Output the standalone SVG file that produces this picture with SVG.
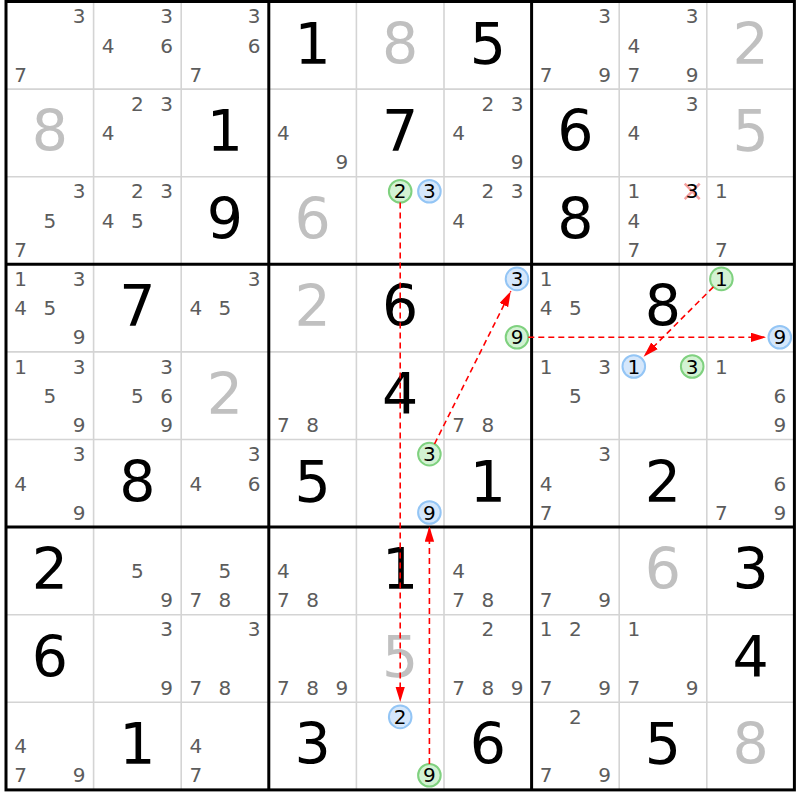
<svg xmlns="http://www.w3.org/2000/svg" width="800" height="800" viewBox="0 0 800 800">
<style>
.cand text{font-family:"DejaVu Sans",Verdana,sans-serif;font-size:20px;fill:#5c5c5c;text-anchor:middle}
.cand text.k{fill:#000}
.big text{font-family:"DejaVu Sans",Verdana,sans-serif;font-size:57px;text-anchor:middle}
.solved text{fill:#000}
.given text{fill:#c0c0c0}
.thin{stroke:#d4d4d4;stroke-width:1.6;fill:none}
.thick{stroke:#000;stroke-width:3;fill:none}
.gc{fill:#d3f2d3;stroke:#7fd17f;stroke-width:2}
.bc{fill:#d5e7fb;stroke:#93c5f5;stroke-width:2}
.x{stroke:#f4a0a0;stroke-width:2.5}
.link{stroke:#ff0000;stroke-width:1.6;stroke-dasharray:6,4;fill:none;marker-end:url(#ah)}
</style>
<defs>
<marker id="ah" markerWidth="16" markerHeight="10" refX="15.5" refY="4.75" orient="auto" markerUnits="userSpaceOnUse"><path d="M0,0 L15.5,4.75 L0,9.5 z" fill="#ff0000"/></marker>
</defs>
<rect x="0" y="0" width="800" height="800" fill="#fff"/>
<g id="grid">
<path class="thin" d="M93.6,1.5V789.9M181.2,1.5V789.9M356.4,1.5V789.9M444,1.5V789.9M619.2,1.5V789.9M706.8,1.5V789.9M6,89.1H794.4M6,176.7H794.4M6,351.9H794.4M6,439.5H794.4M6,614.7H794.4M6,702.3H794.4"/>
<path class="thick" d="M268.8,1.5V789.9M531.6,1.5V789.9M6,264.3H794.4M6,527.1H794.4"/>
<rect class="thick" x="6" y="1.5" width="788.4" height="788.4"/>
</g>
<!-- row 0 -->
<g id="r0c0" class="cand" transform="translate(6,1.5)"><text x="73" y="21.8">3</text><text x="14.6" y="80.2">7</text></g>
<g id="r0c1" class="cand" transform="translate(93.6,1.5)"><text x="73" y="21.8">3</text><text x="14.6" y="51">4</text><text x="73" y="51">6</text></g>
<g id="r0c2" class="cand" transform="translate(181.2,1.5)"><text x="73" y="21.8">3</text><text x="73" y="51">6</text><text x="14.6" y="80.2">7</text></g>
<g id="r0c3" class="big solved" transform="translate(268.8,1.5)"><text x="43.8" y="62">1</text></g>
<g id="r0c4" class="big given" transform="translate(356.4,1.5)"><text x="43.8" y="62">8</text></g>
<g id="r0c5" class="big solved" transform="translate(444,1.5)"><text x="43.8" y="62">5</text></g>
<g id="r0c6" class="cand" transform="translate(531.6,1.5)"><text x="73" y="21.8">3</text><text x="14.6" y="80.2">7</text><text x="73" y="80.2">9</text></g>
<g id="r0c7" class="cand" transform="translate(619.2,1.5)"><text x="73" y="21.8">3</text><text x="14.6" y="51">4</text><text x="14.6" y="80.2">7</text><text x="73" y="80.2">9</text></g>
<g id="r0c8" class="big given" transform="translate(706.8,1.5)"><text x="43.8" y="62">2</text></g>
<!-- row 1 -->
<g id="r1c0" class="big given" transform="translate(6,89.1)"><text x="43.8" y="62">8</text></g>
<g id="r1c1" class="cand" transform="translate(93.6,89.1)"><text x="43.8" y="21.8">2</text><text x="73" y="21.8">3</text><text x="14.6" y="51">4</text></g>
<g id="r1c2" class="big solved" transform="translate(181.2,89.1)"><text x="43.8" y="62">1</text></g>
<g id="r1c3" class="cand" transform="translate(268.8,89.1)"><text x="14.6" y="51">4</text><text x="73" y="80.2">9</text></g>
<g id="r1c4" class="big solved" transform="translate(356.4,89.1)"><text x="43.8" y="62">7</text></g>
<g id="r1c5" class="cand" transform="translate(444,89.1)"><text x="43.8" y="21.8">2</text><text x="73" y="21.8">3</text><text x="14.6" y="51">4</text><text x="73" y="80.2">9</text></g>
<g id="r1c6" class="big solved" transform="translate(531.6,89.1)"><text x="43.8" y="62">6</text></g>
<g id="r1c7" class="cand" transform="translate(619.2,89.1)"><text x="73" y="21.8">3</text><text x="14.6" y="51">4</text></g>
<g id="r1c8" class="big given" transform="translate(706.8,89.1)"><text x="43.8" y="62">5</text></g>
<!-- row 2 -->
<g id="r2c0" class="cand" transform="translate(6,176.7)"><text x="73" y="21.8">3</text><text x="43.8" y="51">5</text><text x="14.6" y="80.2">7</text></g>
<g id="r2c1" class="cand" transform="translate(93.6,176.7)"><text x="43.8" y="21.8">2</text><text x="73" y="21.8">3</text><text x="14.6" y="51">4</text><text x="43.8" y="51">5</text></g>
<g id="r2c2" class="big solved" transform="translate(181.2,176.7)"><text x="43.8" y="62">9</text></g>
<g id="r2c3" class="big given" transform="translate(268.8,176.7)"><text x="43.8" y="62">6</text></g>
<g id="r2c4" class="cand" transform="translate(356.4,176.7)"><circle class="gc" cx="43.8" cy="14.6" r="11.3"/><text class="k" x="43.8" y="21.8">2</text><circle class="bc" cx="73" cy="14.6" r="11.3"/><text class="k" x="73" y="21.8">3</text></g>
<g id="r2c5" class="cand" transform="translate(444,176.7)"><text x="43.8" y="21.8">2</text><text x="73" y="21.8">3</text><text x="14.6" y="51">4</text></g>
<g id="r2c6" class="big solved" transform="translate(531.6,176.7)"><text x="43.8" y="62">8</text></g>
<g id="r2c7" class="cand" transform="translate(619.2,176.7)"><text x="14.6" y="21.8">1</text><path class="x" d="M65.5,7L80.5,22.5M80.5,7L65.5,22.5"/><text class="k" x="73" y="21.8">3</text><text x="14.6" y="51">4</text><text x="14.6" y="80.2">7</text></g>
<g id="r2c8" class="cand" transform="translate(706.8,176.7)"><text x="14.6" y="21.8">1</text><text x="14.6" y="80.2">7</text></g>
<!-- row 3 -->
<g id="r3c0" class="cand" transform="translate(6,264.3)"><text x="14.6" y="21.8">1</text><text x="73" y="21.8">3</text><text x="14.6" y="51">4</text><text x="43.8" y="51">5</text><text x="73" y="80.2">9</text></g>
<g id="r3c1" class="big solved" transform="translate(93.6,264.3)"><text x="43.8" y="62">7</text></g>
<g id="r3c2" class="cand" transform="translate(181.2,264.3)"><text x="73" y="21.8">3</text><text x="14.6" y="51">4</text><text x="43.8" y="51">5</text></g>
<g id="r3c3" class="big given" transform="translate(268.8,264.3)"><text x="43.8" y="62">2</text></g>
<g id="r3c4" class="big solved" transform="translate(356.4,264.3)"><text x="43.8" y="62">6</text></g>
<g id="r3c5" class="cand" transform="translate(444,264.3)"><circle class="bc" cx="73" cy="14.6" r="11.3"/><text class="k" x="73" y="21.8">3</text><circle class="gc" cx="73" cy="73" r="11.3"/><text class="k" x="73" y="80.2">9</text></g>
<g id="r3c6" class="cand" transform="translate(531.6,264.3)"><text x="14.6" y="21.8">1</text><text x="14.6" y="51">4</text><text x="43.8" y="51">5</text></g>
<g id="r3c7" class="big solved" transform="translate(619.2,264.3)"><text x="43.8" y="62">8</text></g>
<g id="r3c8" class="cand" transform="translate(706.8,264.3)"><circle class="gc" cx="14.6" cy="14.6" r="11.3"/><text class="k" x="14.6" y="21.8">1</text><circle class="bc" cx="73" cy="73" r="11.3"/><text class="k" x="73" y="80.2">9</text></g>
<!-- row 4 -->
<g id="r4c0" class="cand" transform="translate(6,351.9)"><text x="14.6" y="21.8">1</text><text x="73" y="21.8">3</text><text x="43.8" y="51">5</text><text x="73" y="80.2">9</text></g>
<g id="r4c1" class="cand" transform="translate(93.6,351.9)"><text x="73" y="21.8">3</text><text x="43.8" y="51">5</text><text x="73" y="51">6</text><text x="73" y="80.2">9</text></g>
<g id="r4c2" class="big given" transform="translate(181.2,351.9)"><text x="43.8" y="62">2</text></g>
<g id="r4c3" class="cand" transform="translate(268.8,351.9)"><text x="14.6" y="80.2">7</text><text x="43.8" y="80.2">8</text></g>
<g id="r4c4" class="big solved" transform="translate(356.4,351.9)"><text x="43.8" y="62">4</text></g>
<g id="r4c5" class="cand" transform="translate(444,351.9)"><text x="14.6" y="80.2">7</text><text x="43.8" y="80.2">8</text></g>
<g id="r4c6" class="cand" transform="translate(531.6,351.9)"><text x="14.6" y="21.8">1</text><text x="73" y="21.8">3</text><text x="43.8" y="51">5</text></g>
<g id="r4c7" class="cand" transform="translate(619.2,351.9)"><circle class="bc" cx="14.6" cy="14.6" r="11.3"/><text class="k" x="14.6" y="21.8">1</text><circle class="gc" cx="73" cy="14.6" r="11.3"/><text class="k" x="73" y="21.8">3</text></g>
<g id="r4c8" class="cand" transform="translate(706.8,351.9)"><text x="14.6" y="21.8">1</text><text x="73" y="51">6</text><text x="73" y="80.2">9</text></g>
<!-- row 5 -->
<g id="r5c0" class="cand" transform="translate(6,439.5)"><text x="73" y="21.8">3</text><text x="14.6" y="51">4</text><text x="73" y="80.2">9</text></g>
<g id="r5c1" class="big solved" transform="translate(93.6,439.5)"><text x="43.8" y="62">8</text></g>
<g id="r5c2" class="cand" transform="translate(181.2,439.5)"><text x="73" y="21.8">3</text><text x="14.6" y="51">4</text><text x="73" y="51">6</text></g>
<g id="r5c3" class="big solved" transform="translate(268.8,439.5)"><text x="43.8" y="62">5</text></g>
<g id="r5c4" class="cand" transform="translate(356.4,439.5)"><circle class="gc" cx="73" cy="14.6" r="11.3"/><text class="k" x="73" y="21.8">3</text><circle class="bc" cx="73" cy="73" r="11.3"/><text class="k" x="73" y="80.2">9</text></g>
<g id="r5c5" class="big solved" transform="translate(444,439.5)"><text x="43.8" y="62">1</text></g>
<g id="r5c6" class="cand" transform="translate(531.6,439.5)"><text x="73" y="21.8">3</text><text x="14.6" y="51">4</text><text x="14.6" y="80.2">7</text></g>
<g id="r5c7" class="big solved" transform="translate(619.2,439.5)"><text x="43.8" y="62">2</text></g>
<g id="r5c8" class="cand" transform="translate(706.8,439.5)"><text x="73" y="51">6</text><text x="14.6" y="80.2">7</text><text x="73" y="80.2">9</text></g>
<!-- row 6 -->
<g id="r6c0" class="big solved" transform="translate(6,527.1)"><text x="43.8" y="62">2</text></g>
<g id="r6c1" class="cand" transform="translate(93.6,527.1)"><text x="43.8" y="51">5</text><text x="73" y="80.2">9</text></g>
<g id="r6c2" class="cand" transform="translate(181.2,527.1)"><text x="43.8" y="51">5</text><text x="14.6" y="80.2">7</text><text x="43.8" y="80.2">8</text></g>
<g id="r6c3" class="cand" transform="translate(268.8,527.1)"><text x="14.6" y="51">4</text><text x="14.6" y="80.2">7</text><text x="43.8" y="80.2">8</text></g>
<g id="r6c4" class="big solved" transform="translate(356.4,527.1)"><text x="43.8" y="62">1</text></g>
<g id="r6c5" class="cand" transform="translate(444,527.1)"><text x="14.6" y="51">4</text><text x="14.6" y="80.2">7</text><text x="43.8" y="80.2">8</text></g>
<g id="r6c6" class="cand" transform="translate(531.6,527.1)"><text x="14.6" y="80.2">7</text><text x="73" y="80.2">9</text></g>
<g id="r6c7" class="big given" transform="translate(619.2,527.1)"><text x="43.8" y="62">6</text></g>
<g id="r6c8" class="big solved" transform="translate(706.8,527.1)"><text x="43.8" y="62">3</text></g>
<!-- row 7 -->
<g id="r7c0" class="big solved" transform="translate(6,614.7)"><text x="43.8" y="62">6</text></g>
<g id="r7c1" class="cand" transform="translate(93.6,614.7)"><text x="73" y="21.8">3</text><text x="73" y="80.2">9</text></g>
<g id="r7c2" class="cand" transform="translate(181.2,614.7)"><text x="73" y="21.8">3</text><text x="14.6" y="80.2">7</text><text x="43.8" y="80.2">8</text></g>
<g id="r7c3" class="cand" transform="translate(268.8,614.7)"><text x="14.6" y="80.2">7</text><text x="43.8" y="80.2">8</text><text x="73" y="80.2">9</text></g>
<g id="r7c4" class="big given" transform="translate(356.4,614.7)"><text x="43.8" y="62">5</text></g>
<g id="r7c5" class="cand" transform="translate(444,614.7)"><text x="43.8" y="21.8">2</text><text x="14.6" y="80.2">7</text><text x="43.8" y="80.2">8</text><text x="73" y="80.2">9</text></g>
<g id="r7c6" class="cand" transform="translate(531.6,614.7)"><text x="14.6" y="21.8">1</text><text x="43.8" y="21.8">2</text><text x="14.6" y="80.2">7</text><text x="73" y="80.2">9</text></g>
<g id="r7c7" class="cand" transform="translate(619.2,614.7)"><text x="14.6" y="21.8">1</text><text x="14.6" y="80.2">7</text><text x="73" y="80.2">9</text></g>
<g id="r7c8" class="big solved" transform="translate(706.8,614.7)"><text x="43.8" y="62">4</text></g>
<!-- row 8 -->
<g id="r8c0" class="cand" transform="translate(6,702.3)"><text x="14.6" y="51">4</text><text x="14.6" y="80.2">7</text><text x="73" y="80.2">9</text></g>
<g id="r8c1" class="big solved" transform="translate(93.6,702.3)"><text x="43.8" y="62">1</text></g>
<g id="r8c2" class="cand" transform="translate(181.2,702.3)"><text x="14.6" y="51">4</text><text x="14.6" y="80.2">7</text></g>
<g id="r8c3" class="big solved" transform="translate(268.8,702.3)"><text x="43.8" y="62">3</text></g>
<g id="r8c4" class="cand" transform="translate(356.4,702.3)"><circle class="bc" cx="43.8" cy="14.6" r="11.3"/><text class="k" x="43.8" y="21.8">2</text><circle class="gc" cx="73" cy="73" r="11.3"/><text class="k" x="73" y="80.2">9</text></g>
<g id="r8c5" class="big solved" transform="translate(444,702.3)"><text x="43.8" y="62">6</text></g>
<g id="r8c6" class="cand" transform="translate(531.6,702.3)"><text x="43.8" y="21.8">2</text><text x="14.6" y="80.2">7</text><text x="73" y="80.2">9</text></g>
<g id="r8c7" class="big solved" transform="translate(619.2,702.3)"><text x="43.8" y="62">5</text></g>
<g id="r8c8" class="big given" transform="translate(706.8,702.3)"><text x="43.8" y="62">8</text></g>
<g id="connectors">
<path class="link" d="M400.2,202.6V702"/>
<path class="link" d="M429.4,764V526.3"/>
<path class="link" d="M434.5,444L510.8,291.2"/>
<path class="link" d="M528.3,337.3H766"/>
<path class="link" d="M713.4,286.9L643.6,356.7"/>
</g>
</svg>
